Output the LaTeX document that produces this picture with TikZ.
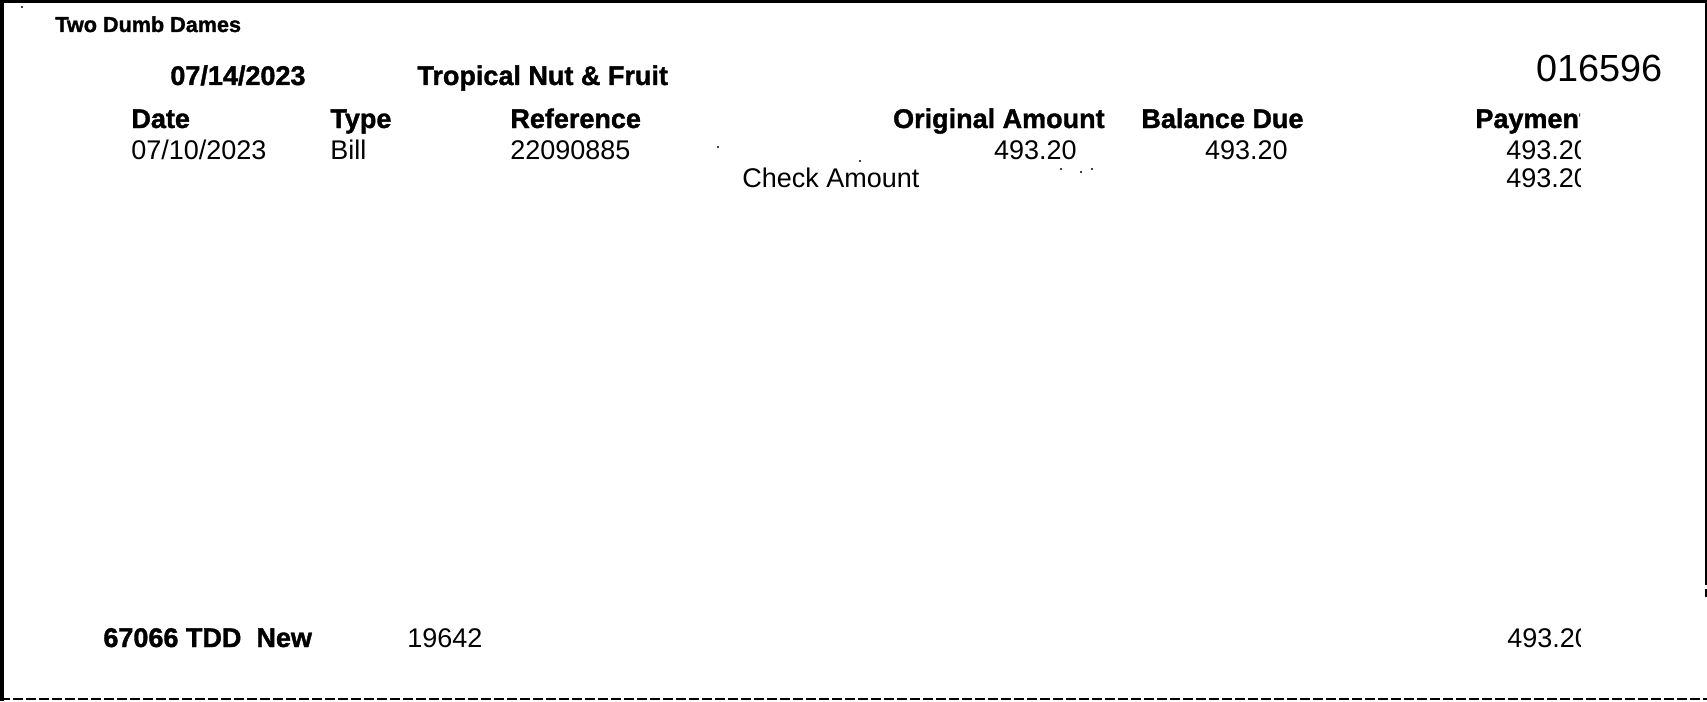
\documentclass[tikz,border=0pt]{standalone}
\usepackage{fontspec}
\setmainfont[BoldFeatures={FakeBold=1.4}]{Liberation Sans}
\begin{document}
\begin{tikzpicture}[x=0.5pt,y=-0.5pt,
  txt/.style={inner sep=0pt,font=\fontsize{13.5}{16}\selectfont},
  bld/.style={txt,font=\fontsize{13.5}{16}\selectfont\bfseries},
  lft/.style={anchor=base west},
  rgt/.style={anchor=base east}]
\useasboundingbox (0,0) rectangle (1707,701);
\fill[white] (0,0) rectangle (1707,701);
% frame
\draw[line width=1.5pt] (0,1.5)--(1707,1.5);
\draw[line width=2pt] (2,0)--(2,701);
\draw[line width=0.8pt] (1706,0)--(1706,577);
\draw[line width=0.8pt,dash pattern=on 4pt off 2pt] (1706,577)--(1706,600);
\draw[line width=1pt,dash pattern=on 5pt off 1.5pt] (0,699)--(1707,699);
% specks
\foreach \x/\y in {22/7,718/147,860/161,1061/169,1081/172,1092/169}{
\fill (\x,\y) circle[radius=1.2];
}
% heading
\node[bld,lft,font=\fontsize{10.8}{13}\selectfont\bfseries] (firm) at (55,32) {Two Dumb Dames};
\node[bld,lft] (chkdate) at (170,85) {07/14/2023};
\node[bld,lft] (payee) at (417,85) {Tropical Nut \& Fruit};
\node[txt,rgt,font=\fontsize{18.9}{22}\selectfont] (chkno) at (1663,82) {016596};
% columns
\node[bld,lft] (hdate) at (131,128) {Date};
\node[bld,lft] (htype) at (330,128) {Type};
\node[bld,lft] (href) at (510,128) {Reference};
\node[bld,rgt] (horig) at (1105,128) {Original Amount};
\node[bld,lft] (hbal) at (1141,128) {Balance Due};
\node[txt,lft] (date) at (131,159) {07/10/2023};
\node[txt,lft] (type) at (330,159) {Bill};
\node[txt,lft] (ref) at (510,159) {22090885};
\node[txt,rgt] (orig) at (1077,159) {493.20};
\node[txt,rgt] (bal) at (1288,159) {493.20};
\node[txt,lft] (chklbl) at (742,187) {Check Amount};
% stub
\node[bld,lft] (memo) at (103,647) {67066 TDD\ \ New};
\node[txt,lft] (acct) at (407,647) {19642};
% payment column, cut off at the edge
\begin{scope}
\clip (0,0) rectangle (1580,701);
\node[bld,lft] (hpay) at (1475,128) {Payment};
\node[txt,lft] (pay) at (1506,159) {493.20};
\node[txt,lft] (chkamt) at (1506,187) {493.20};
\node[txt,lft] (total) at (1507,647) {493.20};
\end{scope}
\end{tikzpicture}
\end{document}
